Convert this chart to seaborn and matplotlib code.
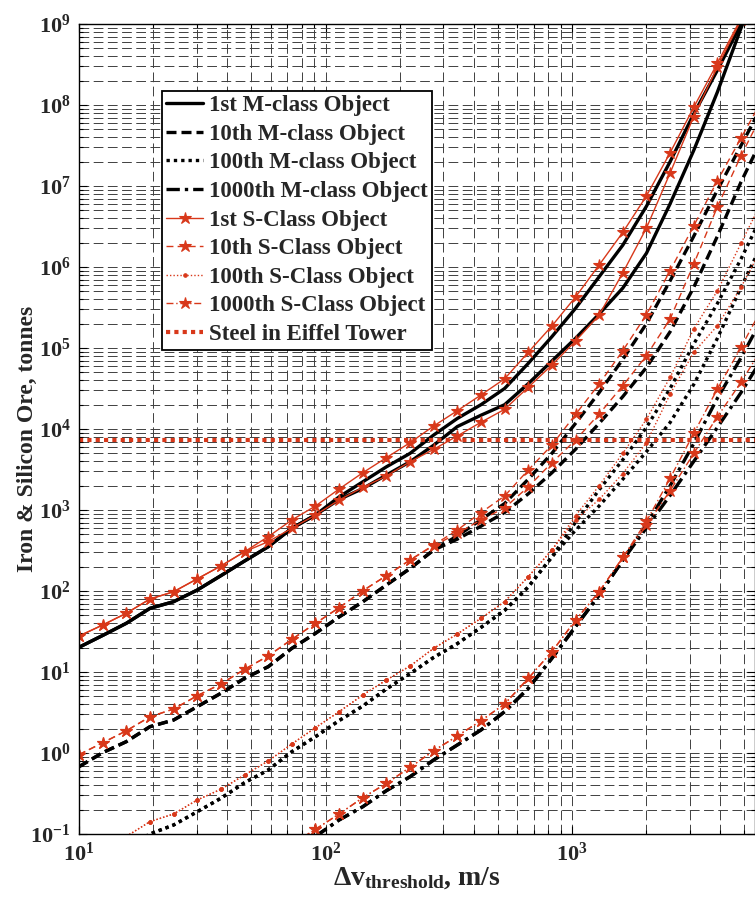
import numpy as np
import seaborn as sns
import matplotlib.pyplot as plt
from matplotlib.ticker import LogLocator, FuncFormatter, NullFormatter

# delta-v threshold grid, m/s
dv = [10.0, 12.47, 15.55, 19.40, 24.19, 30.17, 37.62, 46.92, 58.52, 72.98,
      91.0, 113.5, 141.6, 176.5, 220.2, 274.6, 342.4, 427.0, 532.6, 664.2,
      828.4, 1033, 1288, 1606, 2003, 2498, 3116, 3886, 4846, 6043]

# ore mass, log10(tonnes); two branches per object rank
m1_hi = [1.305, 1.451, 1.601, 1.786, 1.868, 2.012, 2.189, 2.370, 2.546, 2.774,
         2.938, 3.162, 3.348, 3.533, 3.699, 3.926, 4.13, 4.30, 4.50, 4.81,
         5.14, 5.49, 5.88, 6.27, 6.75, 7.30, 7.89, 8.43, 9.00, 9.6]
m1_lo = [1.305, 1.451, 1.601, 1.786, 1.868, 2.012, 2.189, 2.370, 2.546, 2.774,
         2.938, 3.130, 3.265, 3.432, 3.596, 3.80, 4.03, 4.17, 4.30, 4.56,
         4.84, 5.12, 5.42, 5.74, 6.17, 6.78, 7.44, 8.16, 8.95, 9.7]
s1_hi = [1.444, 1.580, 1.725, 1.901, 1.991, 2.150, 2.309, 2.485, 2.670, 2.877,
         3.049, 3.259, 3.460, 3.646, 3.831, 4.037, 4.226, 4.420, 4.62, 4.947,
         5.272, 5.630, 6.025, 6.428, 6.877, 7.410, 7.972, 8.516, 9.07, 9.6]
s1_lo = [1.444, 1.580, 1.725, 1.901, 1.991, 2.150, 2.309, 2.485, 2.609, 2.774,
         2.938, 3.123, 3.280, 3.420, 3.596, 3.749, 3.914, 4.083, 4.243, 4.515,
         4.790, 5.086, 5.407, 5.928, 6.481, 7.160, 7.858, 8.47, 9.05, 9.6]

m10_hi = [-0.169, 0.004, 0.140, 0.325, 0.407, 0.572, 0.737, 0.922, 1.065, 1.292,
          1.477, 1.68, 1.867, 2.074, 2.278, 2.506, 2.68, 2.88, 3.08, 3.38,
          3.70, 4.07, 4.45, 4.86, 5.30, 5.83, 6.38, 6.95, 7.50, 8.05]
m10_lo = [-0.169, 0.004, 0.140, 0.325, 0.407, 0.572, 0.737, 0.922, 1.065, 1.292,
          1.477, 1.68, 1.867, 2.074, 2.278, 2.506, 2.64, 2.80, 2.97, 3.20,
          3.46, 3.75, 4.07, 4.40, 4.76, 5.20, 5.75, 6.38, 7.05, 7.65]
s10_hi = [-0.02, 0.126, 0.274, 0.447, 0.543, 0.707, 0.852, 1.033, 1.198, 1.403,
          1.601, 1.794, 2.003, 2.189, 2.383, 2.568, 2.753, 2.967, 3.173, 3.494,
          3.802, 4.18, 4.556, 4.967, 5.411, 5.954, 6.509, 7.065, 7.593, 8.12]
s10_lo = [-0.02, 0.126, 0.274, 0.447, 0.543, 0.707, 0.852, 1.033, 1.198, 1.403,
          1.601, 1.794, 2.003, 2.189, 2.383, 2.56, 2.710, 2.877, 3.027, 3.286,
          3.584, 3.864, 4.185, 4.535, 4.906, 5.358, 6.037, 6.744, 7.374, 7.95]

# 100th curves start at dv[2]
m100_hi = [-1.17, -1.0, -0.889, -0.725, -0.559, -0.367, -0.21, 0.016, 0.201, 0.40,
           0.58, 0.79, 0.98, 1.18, 1.35, 1.55, 1.76, 2.05, 2.42, 2.85,
           3.25, 3.62, 4.02, 4.50, 5.05, 5.55, 6.10, 6.70]
m100_lo = [-1.17, -1.0, -0.889, -0.725, -0.559, -0.367, -0.21, 0.016, 0.201, 0.40,
           0.58, 0.79, 0.98, 1.18, 1.35, 1.55, 1.76, 2.05, 2.42, 2.75,
           3.05, 3.38, 3.72, 4.08, 4.55, 5.12, 5.75, 6.35]
s100_hi = [-1.03, -0.848, -0.753, -0.580, -0.448, -0.272, -0.099, 0.111, 0.312, 0.510,
           0.716, 0.901, 1.074, 1.292, 1.469, 1.663, 1.868, 2.177, 2.506, 2.93,
           3.30, 3.70, 4.12, 4.638, 5.235, 5.707, 6.292, 6.88]
s100_lo = [-1.03, -0.848, -0.753, -0.580, -0.448, -0.272, -0.099, 0.111, 0.312, 0.510,
           0.716, 0.901, 1.074, 1.292, 1.469, 1.663, 1.868, 2.177, 2.506, 2.88,
           3.13, 3.45, 3.83, 4.43, 4.947, 5.275, 5.75, 6.30]

# 1000th curves: M-class from dv[10], S-class from dv[9]
m1000_hi = [-1.03, -0.827, -0.663, -0.465, -0.293, -0.086, 0.099, 0.284, 0.510, 0.798,
            1.169, 1.56, 1.95, 2.38, 2.82, 3.30, 3.82, 4.38, 4.88, 5.42]
m1000_lo = [-1.03, -0.827, -0.663, -0.465, -0.293, -0.086, 0.099, 0.284, 0.510, 0.798,
            1.169, 1.56, 1.95, 2.38, 2.78, 3.18, 3.60, 4.02, 4.45, 4.92]
s1000_hi = [-1.13, -0.942, -0.753, -0.552, -0.375, -0.177, 0.028, 0.210, 0.399, 0.605,
            0.922, 1.251, 1.64, 1.991, 2.414, 2.86, 3.391, 3.946, 4.494, 5.009, 5.55]
s1000_lo = [-1.13, -0.942, -0.753, -0.552, -0.375, -0.177, 0.028, 0.210, 0.399, 0.605,
            0.922, 1.251, 1.64, 1.991, 2.414, 2.81, 3.238, 3.698, 4.152, 4.577, 5.05]

eiffel_steel = 7300  # tonnes

labels = ["1st M-class Object", "10th M-class Object", "100th M-class Object",
          "1000th M-class Object", "1st S-Class Object", "10th S-Class Object",
          "100th S-Class Object", "1000th S-Class Object", "Steel in Eiffel Tower"]

# ------------------------------
# style
# ------------------------------
sns.set_style("ticks")
plt.rcParams['font.family'] = ['Liberation Serif', 'DejaVu Serif']
plt.rcParams['font.weight'] = 'bold'
plt.rcParams['mathtext.fontset'] = 'custom'
plt.rcParams['mathtext.rm'] = 'Liberation Serif:bold'
plt.rcParams['mathtext.bf'] = 'Liberation Serif:bold'
plt.rcParams['mathtext.it'] = 'Liberation Serif:bold'

RED = '#d8381a'

fig = plt.figure(figsize=(7.55, 8.99), dpi=100)
ax = fig.add_axes([79 / 755, 1 - 834 / 899, 676 / 755, 810 / 899])

black_kw = dict(color='k', lw=2.4)
m_styles = ['-', (0, (3, 1.5)), (0, (1, 1.2)), (0, (4, 1.5, 1, 1.5))]
s_styles = [dict(ls='-', marker='*', ms=9),
            dict(ls=(0, (5, 3)), marker='*', ms=9),
            dict(ls=(0, (1, 1.5)), marker='.', ms=5),
            dict(ls=(0, (5, 2, 1, 2)), marker='*', ms=9)]

m_pairs = [(dv, m1_hi, m1_lo), (dv, m10_hi, m10_lo),
           (dv[2:], m100_hi, m100_lo), (dv[10:], m1000_hi, m1000_lo)]
s_pairs = [(dv, s1_hi, s1_lo), (dv, s10_hi, s10_lo),
           (dv[2:], s100_hi, s100_lo), (dv[9:], s1000_hi, s1000_lo)]

handles = []


def draw(x, ylog, **kw):
    sns.lineplot(x=x, y=10 ** np.array(ylog), ax=ax, estimator=None,
                 sort=False, legend=False, **kw)
    return ax.lines[-1]


for (x, hi, lo), ls in zip(m_pairs, m_styles):
    h = draw(x, hi, ls=ls, **black_kw)
    draw(x, lo, ls=ls, **black_kw)
    handles.append(h)

for (x, hi, lo), st in zip(s_pairs, s_styles):
    kw = dict(color=RED, lw=1.0, mfc=RED, mec=RED, mew=0.8, **st)
    h = draw(x, hi, **kw)
    draw(x, lo, **kw)
    handles.append(h)

h = ax.axhline(eiffel_steel, color=RED, lw=3, ls=(0, (1, 1)))
handles.append(h)

# ------------------------------
# axes
# ------------------------------
ax.set_xscale('log')
ax.set_yscale('log')
ax.set_xlim(10, 5521)
ax.set_ylim(0.1, 1e9)

ax.xaxis.set_major_locator(LogLocator(base=10, numticks=20))
ax.yaxis.set_major_locator(LogLocator(base=10, numticks=20))
ax.xaxis.set_minor_locator(LogLocator(base=10, subs=np.arange(2, 10), numticks=100))
ax.yaxis.set_minor_locator(LogLocator(base=10, subs=np.arange(2, 10), numticks=100))
fmt = FuncFormatter(lambda v, p: r'$\mathbf{10^{%d}}$' % round(np.log10(v)))
ax.xaxis.set_major_formatter(fmt)
ax.yaxis.set_major_formatter(fmt)
ax.xaxis.set_minor_formatter(NullFormatter())
ax.yaxis.set_minor_formatter(NullFormatter())

ax.grid(True, which='both', ls=(0, (10, 4.6)), color='0.25', lw=0.7)
ax.set_axisbelow(True)
ax.tick_params(which='both', direction='in', top=True, right=True,
               labelsize=16, width=0.8, color='k')
ax.tick_params(which='major', length=6, pad=6)
ax.tick_params(which='minor', length=3)
for sp in ax.spines.values():
    sp.set_color('k')
    sp.set_linewidth(1.0)

ax.set_ylabel('Iron & Silicon Ore, tonnes', fontsize=17, fontweight='bold')
ax.yaxis.set_label_coords((38 - 79) / 676, 0.488)
ax.set_xlabel(r'$\Delta\mathrm{v}_{\mathrm{threshold}}$, m/s', fontsize=20,
              fontweight='bold', labelpad=0)

leg = ax.legend(handles, labels, loc='upper left',
                bbox_to_anchor=((161.7 - 79) / 676, (834 - 90.5) / 810),
                borderaxespad=0, frameon=True, fancybox=False, framealpha=1,
                edgecolor='k', handlelength=1.6, handletextpad=0.25,
                labelspacing=0.33, borderpad=0.2,
                prop=dict(family='Liberation Serif', weight='bold', size=16.5))
leg.get_frame().set_linewidth(1.3)

fig.savefig('out.png', dpi=100)
